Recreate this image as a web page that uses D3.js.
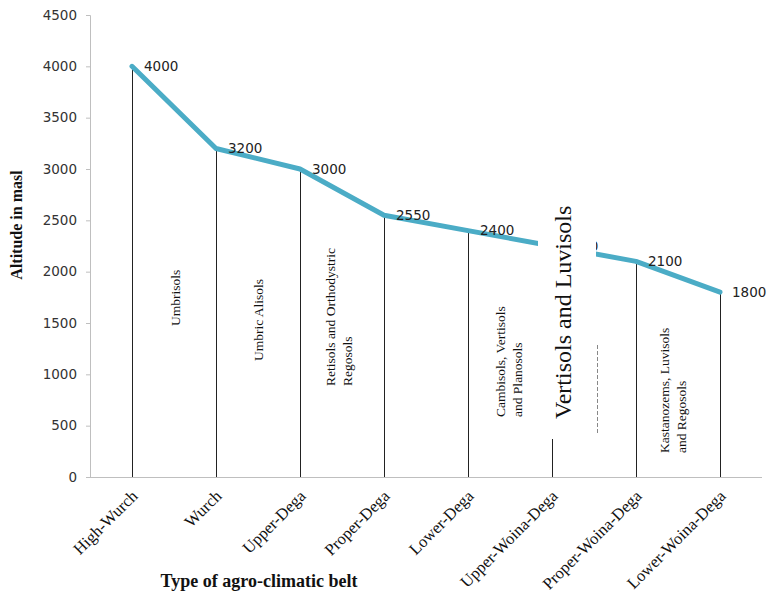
<!DOCTYPE html>
<html>
<head>
<meta charset="utf-8">
<script src="https://cdn.jsdelivr.net/npm/d3@7"></script>
<style>
  html, body { margin: 0; padding: 0; background: #fff; }
  svg { display: block; }
</style>
</head>
<body>
<svg id="chart" width="767" height="595"></svg>
<script>
// Agro-climatic belts and their upper altitude limit (m a.s.l.)
const belts = ["High-Wurch", "Wurch", "Upper-Dega", "Proper-Dega", "Lower-Dega",
               "Upper-Woina-Dega", "Proper-Woina-Dega", "Lower-Woina-Dega"];
const altitudes = [4000, 3200, 3000, 2550, 2400, 2250, 2100, 1800];
const yTicks = [0, 500, 1000, 1500, 2000, 2500, 3000, 3500, 4000, 4500];

// Dominant soil groups written between the belt drop lines
const soilLabels = [
  { between: [0, 1], lines: ["Umbrisols"] },
  { between: [1, 2], lines: ["Umbric Alisols"] },
  { between: [2, 3], lines: ["Retisols and Orthodystric", "Regosols"] },
  { between: [4, 5], lines: ["Cambisols, Vertisols", "and Planosols"] },
  { between: [6, 7], lines: ["Kastanozems, Luvisols", "and Regosols"] }
];
const boxedSoil = "Vertisols and Luvisols";

const svg = d3.select("#chart");
const plotL = 90, plotR = 762, plotT = 15, plotB = 477;

const x = d3.scalePoint().domain(belts).range([plotL, plotR]).padding(0.5);
const y = d3.scaleLinear().domain([0, 4500]).range([plotB, plotT]);

const data = belts.map((b, i) => ({ belt: b, alt: altitudes[i] }));
const serif = "'Liberation Serif', 'Times New Roman', serif";
const sans = "'DejaVu Sans', sans-serif";

// Y axis
const yAxis = svg.append("g")
  .attr("transform", `translate(${plotL},0)`)
  .call(d3.axisLeft(y).tickValues(yTicks).tickSize(4).tickPadding(9).tickFormat(d3.format("d")));
yAxis.select(".domain").attr("stroke", "#bfbfbf");
yAxis.selectAll(".tick line").attr("stroke", "#bfbfbf");
yAxis.selectAll(".tick text")
  .attr("fill", "#333")
  .style("font-family", sans)
  .style("font-size", "13.5px");

// X axis line with rotated category labels
const xAxis = svg.append("g")
  .attr("transform", `translate(0,${plotB})`)
  .call(d3.axisBottom(x).tickSize(0).tickSizeOuter(0));
xAxis.select(".domain").attr("stroke", "#bfbfbf").attr("d", `M${plotL},0.5H${plotR}`);
xAxis.selectAll(".tick text")
  .attr("fill", "#111")
  .attr("text-anchor", "end")
  .attr("x", 0).attr("y", 0).attr("dy", "0.35em")
  .attr("transform", "translate(2,16) rotate(-45)")
  .style("font-family", serif)
  .style("font-size", "16.5px");

// Drop lines from each point to the axis
svg.append("g").selectAll("line")
  .data(data).join("line")
  .attr("x1", d => Math.round(x(d.belt)) + 0.5)
  .attr("x2", d => Math.round(x(d.belt)) + 0.5)
  .attr("y1", d => y(d.alt))
  .attr("y2", plotB)
  .attr("stroke", "#222")
  .attr("stroke-width", 1);

// Altitude line
svg.append("path")
  .datum(data)
  .attr("fill", "none")
  .attr("stroke", "#4bacc6")
  .attr("stroke-width", 5)
  .attr("stroke-linejoin", "round")
  .attr("stroke-linecap", "round")
  .attr("d", d3.line().x(d => x(d.belt)).y(d => y(d.alt)));

// Value labels
svg.append("g").selectAll("text")
  .data(data).join("text")
  .attr("x", d => x(d.belt) + 12)
  .attr("y", d => y(d.alt))
  .attr("dy", "0.35em")
  .attr("fill", "#222")
  .style("font-family", sans)
  .style("font-size", "13.5px")
  .text(d => d.alt);

// Soil group labels, rotated, lines stacked left to right
const soilBase = [326, 361, 386, 417, 453];
const soilX = [175, 258, 330, 500, 664];
soilLabels.forEach((s, k) => {
  s.lines.forEach((line, j) => {
    svg.append("text")
      .attr("transform", `translate(${soilX[k] + j * 17},${soilBase[k]}) rotate(-90)`)
      .attr("dy", "0.35em")
      .attr("fill", "#111")
      .style("font-family", serif)
      .style("font-size", "13.5px")
      .text(line);
  });
});

// Text box for the Upper-Woina-Dega soil group
const xb = x("Upper-Woina-Dega");
svg.append("rect")
  .attr("x", xb - 14).attr("y", 192)
  .attr("width", 58).attr("height", 247)
  .attr("fill", "#fff");
svg.append("line")
  .attr("x1", xb + 45.5).attr("x2", xb + 45.5)
  .attr("y1", 345).attr("y2", 435)
  .attr("stroke", "#888")
  .attr("stroke-dasharray", "4,2");
svg.append("text")
  .attr("transform", `translate(${xb + 19},419) rotate(-90)`)
  .attr("fill", "#111")
  .style("font-family", serif)
  .style("font-size", "24px")
  .text(boxedSoil);

// Axis titles
svg.append("text")
  .attr("transform", "translate(22,225) rotate(-90)")
  .attr("text-anchor", "middle")
  .attr("fill", "#111")
  .style("font-family", serif)
  .style("font-weight", "bold")
  .style("font-size", "16px")
  .text("Altitude in masl");

svg.append("text")
  .attr("x", 259).attr("y", 587)
  .attr("text-anchor", "middle")
  .attr("fill", "#111")
  .style("font-family", serif)
  .style("font-weight", "bold")
  .style("font-size", "18px")
  .text("Type of agro-climatic belt");
</script>
</body>
</html>
